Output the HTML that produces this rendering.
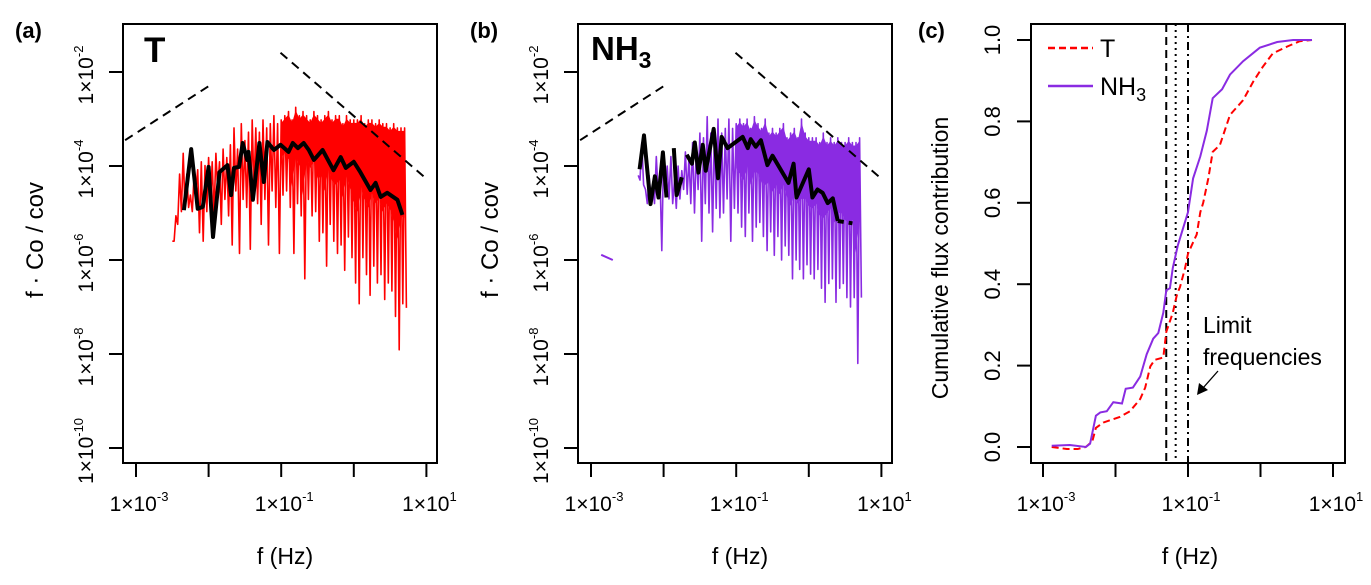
<!DOCTYPE html>
<html><head><meta charset="utf-8"><style>
body{margin:0;background:#fff;}
svg{display:block;font-family:"Liberation Sans",Arial,sans-serif;}
</style></head><body>
<svg id="fig" width="1371" height="585" viewBox="0 0 1371 585" xmlns="http://www.w3.org/2000/svg"></svg>
<script>
// ---------- data (log10 values) ----------
const aNoiseStart = -2.5;
const aNoiseHi = [-5.60,-5.06,-4.17,-3.73,-4.17,-4.62,-4.17,-4.08,-3.91,-3.99,-3.82,-3.91,-3.73,-3.91,-3.64,-3.82,-3.55,
 -3.19,-3.64,-3.10,-3.46,-3.28,-3.02,-3.19,-3.28,-3.02,-3.19,-3.10,-2.93,-3.10,-3.02,
 -2.93,-2.84,-3.02,-2.75,-2.93,-2.84,-2.93,-3.02,-2.84,-2.93,-3.02,-2.93,-2.84,-3.02,-2.93,-2.93,-3.10,-2.93,-3.02,-3.02,
 -3.02,-2.93,-3.10,-3.02,-3.02,-3.10,-3.02,-3.10,-3.10,-3.19,-3.10,-3.19,-3.19,-3.19];
const aNoiseLo = [-5.60,-5.24,-4.97,-4.88,-4.88,-4.97,-4.53,-5.42,-5.60,-4.97,-4.88,-5.06,-4.53,-5.24,-4.71,-5.06,-5.68,
 -4.53,-5.86,-4.71,-4.88,-5.77,-4.53,-4.80,-5.24,-4.71,-5.68,-4.53,-4.88,-5.86,-4.62,
 -4.53,-4.88,-5.86,-4.80,-5.06,-6.40,-4.71,-5.06,-4.97,-5.60,-5.42,-6.13,-5.24,-5.60,-5.86,-5.68,-6.22,-5.51,-5.95,-6.49,
 -6.93,-5.95,-6.31,-6.75,-6.13,-6.49,-6.31,-6.84,-6.49,-6.66,-7.20,-7.91,-6.93,-7.02];
const aSmoothF = [-2.34,-2.24,-2.15,-2.08,-2.00,-1.94,-1.85,-1.74,-1.69,-1.65,-1.58,-1.53,-1.47,-1.45,-1.39,-1.30,-1.24,-1.19,-1.10,-1.01,-0.90,-0.84,-0.77,-0.69,-0.62,-0.55,-0.43,-0.28,-0.18,-0.11,0.00,0.09,0.23,0.30,0.37,0.46,0.60,0.67];
const aSmoothV = [-4.94,-3.64,-4.91,-4.87,-4.02,-5.51,-4.13,-3.98,-4.62,-4.04,-4.02,-3.51,-3.87,-3.70,-4.72,-3.51,-4.34,-3.49,-3.66,-3.55,-3.70,-3.51,-3.62,-3.51,-3.66,-3.87,-3.66,-4.09,-3.81,-4.04,-3.91,-4.13,-4.51,-4.36,-4.66,-4.57,-4.72,-5.04];

const bNoiseStart = -2.35;
const bNoiseHi = [-4.2,-3.5,-4.5,-4.2,-4.4,-3.8,-4.2,-3.7,-4.0,-3.8,-4.3,-4.0,-4.1,
 -3.7,-3.8,-3.5,-3.6,-3.3,-3.4,-2.95,-3.3,-3.2,-3.0,-3.3,-3.2,-3.0,-3.2,-3.1,
 -3.0,-3.1,-3.0,-3.2,-2.95,-3.1,-3.2,-3.0,-3.3,-3.2,-3.3,-3.2,-3.1,-3.4,-3.3,-3.2,-3.4,-3.0,-3.3,-3.4,
 -3.4,-3.4,-3.5,-3.3,-3.5,-3.4,-3.5,-3.4,-3.5,-3.5,-3.4,-3.5,-3.5,-3.4];
const bNoiseLo = [-4.3,-4.4,-4.8,-4.7,-4.8,-4.6,-5.8,-4.6,-4.7,-4.8,-4.9,-4.7,-4.5,
 -4.6,-4.8,-5.0,-4.5,-5.6,-4.8,-5.0,-5.4,-4.9,-5.1,-5.0,-4.7,-5.6,-4.9,-5.0,
 -5.3,-5.5,-5.0,-5.6,-5.3,-5.2,-5.5,-5.8,-5.4,-5.9,-5.5,-6.0,-5.7,-5.9,-6.4,-6.0,-6.2,-6.4,-6.1,-6.3,
 -6.4,-6.2,-6.6,-6.9,-6.5,-6.4,-6.9,-6.6,-6.5,-6.8,-7.0,-6.8,-8.2,-6.8];
const bIsoF = [-2.86,-2.70];
const bIsoV = [-5.89,-6.0];
const bSmoothF = [-2.33,-2.27,-2.18,-2.12,-2.07,-2.01,-1.96,null,-1.86,-1.82,-1.75,null,-1.68,-1.61,-1.57,-1.52,-1.46,-1.42,-1.31,-1.25,-1.20,-1.12,-0.91,-0.84,-0.80,-0.73,-0.66,-0.57,-0.50,-0.28,-0.21,-0.17,0.00,0.05,0.12,0.19,0.26,0.33,0.40];
const bSmoothV = [-4.07,-3.35,-4.81,-4.22,-4.67,-3.71,-4.67,null,-3.62,-4.62,-4.24,null,-3.76,-3.95,-3.50,-4.14,-3.55,-4.10,-3.21,-4.26,-3.38,-3.62,-3.38,-3.62,-3.43,-3.59,-3.45,-3.98,-3.78,-4.36,-3.95,-4.67,-4.07,-4.67,-4.50,-4.57,-4.79,-4.69,-5.17];
const bTailF = [0.40,0.60];
const bTailV = [-5.17,-5.22];

const slopeLeftF = [-3.15,-1.98];
const slopeLeftV = [-3.45,-2.28];
const slopeRightF = [-1.01,0.96];
const slopeRightV = [-1.59,-4.22];

const cTF = [-2.88,-2.67,-2.52,-2.41,-2.32,-2.27,-2.17,-1.94,-1.80,-1.66,-1.59,-1.52,-1.46,-1.34,-1.30,-1.21,-1.15,-1.11,-1.04,-1.00,-0.93,-0.88,-0.83,-0.79,-0.72,-0.66,-0.56,-0.42,-0.24,-0.10,0.03,0.17,0.37,0.54,0.71];
const cTV = [0,-0.005,-0.005,0,0.014,0.047,0.06,0.074,0.088,0.118,0.146,0.198,0.214,0.22,0.283,0.33,0.376,0.393,0.44,0.475,0.503,0.522,0.577,0.60,0.66,0.725,0.742,0.816,0.852,0.898,0.934,0.967,0.984,0.997,1.0];
const cNF = [-2.88,-2.63,-2.41,-2.35,-2.27,-2.21,-2.12,-2.03,-1.91,-1.86,-1.76,-1.66,-1.57,-1.48,-1.41,-1.34,-1.30,-1.25,-1.21,-1.14,-1.07,-1.00,-0.93,-0.83,-0.74,-0.66,-0.53,-0.42,-0.24,-0.01,0.23,0.45,0.71];
const cNV = [0.003,0.005,0,0.008,0.077,0.085,0.088,0.11,0.107,0.143,0.146,0.173,0.228,0.266,0.28,0.33,0.385,0.39,0.44,0.495,0.536,0.577,0.66,0.714,0.777,0.857,0.879,0.915,0.948,0.981,0.995,1.0,1.0];
const cLimits = [-1.30,-1.17,-1.00];
const xTickExp = [-3,-2,-1,0,1];
const xLabelExp = [-3,-1,1];
const yTickExp = [-2,-4,-6,-8,-10];
const cYTicks = [0,0.2,0.4,0.6,0.8,1.0];

// ---------- helpers ----------
const NS="http://www.w3.org/2000/svg";
const svg=document.getElementById('fig');
function mk(tag,attrs,parent,text){const e=document.createElementNS(NS,tag);for(const k in attrs)e.setAttribute(k,attrs[k]);if(text!==undefined)e.textContent=text;(parent||svg).appendChild(e);return e;}
const TOP=24,BOT=463;
function xLog(off){return lf=>off+136+(lf+3)*72.6;}
function yLog(lv){return 166-(lv+4)*47;}
function yC(v){return 447-v*407;}

function axesLog(off,g){
  const X=xLog(off);
  const box=mk('rect',{x:off+123,y:TOP,width:314,height:BOT-TOP,fill:'none',stroke:'#000','stroke-width':2},g);
  
  
  xTickExp.forEach(e=>{const t=mk('line',{x1:X(e),x2:X(e),y1:BOT,y2:BOT+14,stroke:'#000','stroke-width':2},g);
    });
  xLabelExp.forEach(e=>{const t=mk('text',{x:X(e)+3,y:511,'font-size':21,'text-anchor':'middle'},g);
    
    mk('tspan',{},t,'1×10');mk('tspan',{dy:-10,'font-size':13},t,String(e));});
  yTickExp.forEach(e=>{const y=yLog(e);
    const t=mk('line',{x1:off+109,x2:off+123,y1:y,y2:y,stroke:'#000','stroke-width':2},g);
    
    const l=mk('text',{x:0,y:0,'font-size':21,'text-anchor':'middle',transform:`translate(${off+93},${y+3}) rotate(-90)`},g);
    
    mk('tspan',{},l,'1×10');mk('tspan',{dy:-10,'font-size':13},l,String(e));});
  const yt=mk('text',{x:0,y:0,'font-size':24,'text-anchor':'middle',transform:`translate(${off+43},240) rotate(-90)`},g,'f · Co / cov');
  
  const xt=mk('text',{x:off+285,y:564,'font-size':23,'text-anchor':'middle'},g,'f (Hz)');
  
  return X;
}
function poly(X,Y,fs,vs,attrs,g,name){
  let segs=[],cur=[];
  fs.forEach((f,i)=>{if(f===null||vs[i]===null){if(cur.length)segs.push(cur);cur=[];}else cur.push(X(f).toFixed(1)+','+Y(vs[i]).toFixed(1));});
  if(cur.length)segs.push(cur);
  segs.forEach(s=>{const p=mk('polyline',Object.assign({points:s.join(' '),fill:'none'},attrs),g);
    });
}
function noise(X,start,hi,lo,color,g,name){
  const pts=[];
  hi.forEach((h,i)=>{const f=start+i*0.05;pts.push(X(f).toFixed(1)+','+yLog(h).toFixed(1));pts.push(X(f+0.025).toFixed(1)+','+yLog(lo[i]).toFixed(1));});
  const p=mk('polyline',{points:pts.join(' '),fill:'none',stroke:color,'stroke-width':1.6,'stroke-linejoin':'round'},g);
  
  const up=[],dn=[];
  hi.forEach((h,i)=>{const f=start+i*0.05;if(f>=-1.0){up.push(X(f).toFixed(1)+','+(yLog(h)+3).toFixed(1));dn.unshift(X(f).toFixed(1)+','+(yLog((h+lo[i])/2)).toFixed(1));}});
  const a=mk('polygon',{points:up.concat(dn).join(' '),fill:color,stroke:'none'},g);
  
}
function slopes(X,g){
  poly(X,yLog,slopeLeftF,slopeLeftV,{stroke:'#000','stroke-width':2,'stroke-dasharray':'9,6'},g,'slope-reference-line');
  poly(X,yLog,slopeRightF,slopeRightV,{stroke:'#000','stroke-width':2,'stroke-dasharray':'9,6'},g,'slope-reference-line');
}

// ---------- panel a ----------
const ga=mk('g',{});
const Xa=axesLog(0,ga);
noise(Xa,aNoiseStart,aNoiseHi,aNoiseLo,'#ff0000',ga,'t-cospectrum');
poly(Xa,yLog,aSmoothF,aSmoothV,{stroke:'#000','stroke-width':4,'stroke-linejoin':'round'},ga,'t-binned-cospectrum');
slopes(Xa,ga);
let t=mk('text',{x:15,y:38,'font-size':22,'font-weight':'bold'},ga,'(a)');
t=mk('text',{x:144,y:62,'font-size':35,'font-weight':'bold'},ga,'T');

// ---------- panel b ----------
const gb=mk('g',{});
const Xb=axesLog(455,gb);
noise(Xb,bNoiseStart,bNoiseHi,bNoiseLo,'#8a2be2',gb,'nh3-cospectrum');
poly(Xb,yLog,bIsoF,bIsoV,{stroke:'#8a2be2','stroke-width':2},gb,'nh3-cospectrum-lowfreq');
poly(Xb,yLog,bSmoothF,bSmoothV,{stroke:'#000','stroke-width':4,'stroke-linejoin':'round'},gb,'nh3-binned-cospectrum');
poly(Xb,yLog,bTailF,bTailV,{stroke:'#000','stroke-width':4,'stroke-dasharray':'6,5'},gb,'nh3-binned-tail');
slopes(Xb,gb);
t=mk('text',{x:470,y:38,'font-size':22,'font-weight':'bold'},gb,'(b)');
t=mk('text',{x:591,y:60,'font-size':33,'font-weight':'bold'},gb);
mk('tspan',{},t,'NH');mk('tspan',{dy:8,'font-size':23},t,'3');

// ---------- panel c ----------
const gc=mk('g',{});
const Xc=lf=>1043+(lf+3)*72.5;
let r=mk('rect',{x:1031,y:TOP,width:314,height:BOT-TOP,fill:'none',stroke:'#000','stroke-width':2},gc);

xTickExp.forEach(e=>{const l=mk('line',{x1:Xc(e),x2:Xc(e),y1:BOT,y2:BOT+14,stroke:'#000','stroke-width':2},gc);
  });
xLabelExp.forEach(e=>{const l=mk('text',{x:Xc(e)+3,y:511,'font-size':21,'text-anchor':'middle'},gc);
  
  mk('tspan',{},l,'1×10');mk('tspan',{dy:-10,'font-size':13},l,String(e));});
cYTicks.forEach(v=>{const y=yC(v);
  const l=mk('line',{x1:1017,x2:1031,y1:y,y2:y,stroke:'#000','stroke-width':2},gc);
  
  const tx=mk('text',{x:0,y:0,'font-size':22,'text-anchor':'middle',transform:`translate(${1000},${y}) rotate(-90)`},gc,v.toFixed(1));
  });
t=mk('text',{x:0,y:0,'font-size':23,'text-anchor':'middle',transform:'translate(948,258) rotate(-90)'},gc,'Cumulative flux contribution');

t=mk('text',{x:1190,y:564,'font-size':23,'text-anchor':'middle'},gc,'f (Hz)');

const dashes=['8,5','2,4','8,4,2,4'];
cLimits.forEach((f,i)=>{const l=mk('line',{x1:Xc(f),x2:Xc(f),y1:TOP,y2:BOT,stroke:'#000','stroke-width':2,'stroke-dasharray':dashes[i]},gc);
  });
poly(Xc,yC,cTF,cTV,{stroke:'#ff0000','stroke-width':2,'stroke-dasharray':'7,4'},gc,'t-cumulative-curve');
poly(Xc,yC,cNF,cNV,{stroke:'#8a2be2','stroke-width':2},gc,'nh3-cumulative-curve');
t=mk('text',{x:918,y:38,'font-size':22,'font-weight':'bold'},gc,'(c)');
const lg=mk('g',{},gc);
let le=mk('line',{x1:1048,x2:1093,y1:48,y2:48,stroke:'#ff0000','stroke-width':2.5,'stroke-dasharray':'7,4'},lg);

t=mk('text',{x:1100,y:57,'font-size':25},lg,'T');
le=mk('line',{x1:1048,x2:1093,y1:86,y2:86,stroke:'#8a2be2','stroke-width':2.5},lg);

t=mk('text',{x:1100,y:95,'font-size':25},lg);
mk('tspan',{},t,'NH');mk('tspan',{dy:6,'font-size':18},t,'3');
t=mk('text',{x:1203,y:333,'font-size':23},gc,'Limit');
t=mk('text',{x:1203,y:365,'font-size':23},gc,'frequencies');
let ar=mk('line',{x1:1218,y1:371,x2:1203,y2:388,stroke:'#000','stroke-width':1.3},gc);
ar=mk('polygon',{points:'1197,395 1199,383 1208,390',fill:'#000'},gc);
</script>
</body></html>
